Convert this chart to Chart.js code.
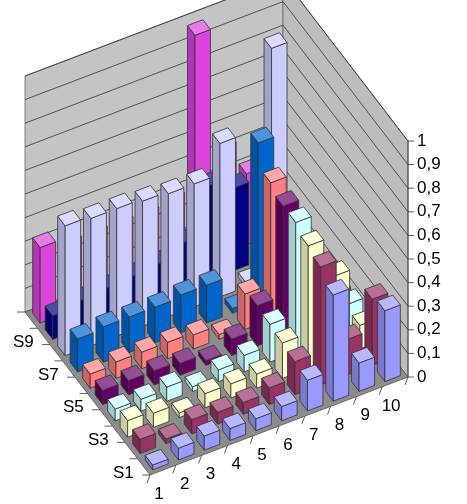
<!DOCTYPE html>
<html><head><meta charset="utf-8">
<script src="https://cdn.jsdelivr.net/npm/chart.js@4/dist/chart.umd.min.js"></script>
<style>body{margin:0;background:#fff}</style>
</head><body>
<canvas id="c" width="467" height="504"></canvas>
<script>
// categories, series and values
const categories = ['1','2','3','4','5','6','7','8','9','10'];
const seriesNames = ['S1','S2','S3','S4','S5','S6','S7','S8','S9','S10'];
const seriesLabels = ['S1','S3','S5','S7','S9'];
const valueTicks = ['0','0,1','0,2','0,3','0,4','0,5','0,6','0,7','0,8','0,9','1'];
const colors = ['#9999ff','#993366','#ffffcc','#ccffff','#660066','#ff8080','#0066cc','#ccccff','#000080','#dd44dd'];
const s1 = [0.02,0.05,0.06,0.05,0.05,0.06,0.13,0.45,0.12,0.30];
const s2 = [0.06,0.02,0.06,0.05,0.05,0.07,0.14,0.50,0.15,0.28];
const s3 = [0.07,0.06,0.02,0.06,0.06,0.06,0.15,0.52,0.35,0.10];
const s4 = [0.05,0.05,0.06,0.02,0.05,0.07,0.16,0.55,0.15,0.12];
const s5 = [0.06,0.06,0.06,0.05,0.02,0.07,0.17,0.55,0.10,0.10];
const s6 = [0.06,0.07,0.07,0.07,0.06,0.02,0.15,0.58,0.10,0.10];
const s7 = [0.14,0.15,0.15,0.15,0.16,0.16,0.02,0.68,0.10,0.10];
const s8 = [0.55,0.54,0.54,0.53,0.52,0.52,0.65,0.02,0.97,0.10];
const s9 = [0.10,0.12,0.13,0.14,0.15,0.20,0.40,0.35,0.02,0.10];
const s10 = [0.32,0.30,0.30,0.30,0.30,0.32,0.97,0.45,0.30,0.02];
const values = [s1,s2,s3,s4,s5,s6,s7,s8,s9,s10];

// projection (cat units, series units, value) -> scale values
const origin = [150,475], catStep = [25.8,-9.8], serStep = [-12.5,-16.3], zUnit = 236;
function proj(c,s,z){ return [origin[0]+c*catStep[0]+s*serStep[0], origin[1]+c*catStep[1]+s*serStep[1]-z*zUnit]; }

function shade(hex,f){
  let n=parseInt(hex.slice(1),16), r=n>>16, g=(n>>8)&255, b=n&255;
  const m=v=>Math.max(0,Math.min(255,Math.round(f>1? v+(255-v)*(f-1) : v*f)));
  return `rgb(${m(r)},${m(g)},${m(b)})`;
}

const bars3d = {
  id:'bars3d',
  afterDraw(chart){
    const {ctx, scales:{x,y}} = chart;
    const P=(c,s,z)=>{const p=proj(c,s,z); return [x.getPixelForValue(p[0]), y.getPixelForValue(p[1])];};
    const poly=(pts,fill,stroke)=>{ctx.beginPath(); pts.forEach((p,i)=>i?ctx.lineTo(p[0],p[1]):ctx.moveTo(p[0],p[1])); ctx.closePath(); ctx.fillStyle=fill; ctx.fill(); if(stroke){ctx.strokeStyle=stroke; ctx.lineWidth=0.8; ctx.stroke();}};
    const n=categories.length, m=seriesNames.length;
    ctx.save();
    // walls and floor
    poly([P(0,m,0),P(n,m,0),P(n,m,1),P(0,m,1)],'#c4c4c4','#666');
    poly([P(n,0,0),P(n,m,0),P(n,m,1),P(n,0,1)],'#bcbcbc','#666');
    poly([P(0,0,0),P(n,0,0),P(n,m,0),P(0,m,0)],'#8c8c8c','#555');
    ctx.strokeStyle='#333'; ctx.lineWidth=0.8;
    for(let i=1;i<valueTicks.length;i++){
      const z=i/10; ctx.beginPath();
      let a=P(0,m,z),b=P(n,m,z),c=P(n,0,z);
      ctx.moveTo(a[0],a[1]); ctx.lineTo(b[0],b[1]); ctx.lineTo(c[0],c[1]); ctx.stroke();
    }
    // bars, far to near
    const w=0.3;
    for(let s=m-1;s>=0;s--) for(let c=n-1;c>=0;c--){
      const v=values[s][c], col=colors[s], cc=c+0.5, sc=s+0.5;
      const c0=cc-w,c1=cc+w,s0=sc-w,s1b=sc+w;
      poly([P(c0,s0,0),P(c0,s1b,0),P(c0,s1b,v),P(c0,s0,v)],shade(col,0.8),'#333');
      poly([P(c0,s0,0),P(c1,s0,0),P(c1,s0,v),P(c0,s0,v)],col,'#333');
      poly([P(c0,s0,v),P(c1,s0,v),P(c1,s1b,v),P(c0,s1b,v)],shade(col,1.3),'#333');
    }
    // value axis
    ctx.font='17px Arial'; ctx.fillStyle='#000'; ctx.textBaseline='middle'; ctx.textAlign='left';
    const b0=P(n,0,0), b1=P(n,0,1);
    ctx.beginPath(); ctx.moveTo(b0[0],b0[1]); ctx.lineTo(b1[0],b1[1]); ctx.stroke();
    valueTicks.forEach((t,i)=>{const p=P(n,0,i/10); ctx.beginPath(); ctx.moveTo(p[0],p[1]); ctx.lineTo(p[0]+6,p[1]); ctx.stroke(); ctx.fillText(t,p[0]+9,p[1]);});
    // category axis
    ctx.textAlign='center';
    for(let c=0;c<=n;c++){const p=P(c,0,0); ctx.beginPath(); ctx.moveTo(p[0],p[1]); ctx.lineTo(p[0]-3,p[1]+8); ctx.stroke();}
    categories.forEach((t,c)=>{const p=P(c+0.5,0,0); ctx.fillText(t,p[0]-4,p[1]+24);});
    // series axis
    ctx.textAlign='right';
    for(let s=0;s<=m;s++){const p=P(0,s,0); ctx.beginPath(); ctx.moveTo(p[0],p[1]); ctx.lineTo(p[0]-8,p[1]); ctx.stroke();}
    seriesLabels.forEach(t=>{const s=seriesNames.indexOf(t); const p=P(0,s+0.5,0); ctx.fillText(t,p[0]-10,p[1]+6);});
    ctx.restore();
  }
};

new Chart(document.getElementById('c'),{
  type:'scatter',
  data:{datasets:[{data:[]}]},
  options:{responsive:false, animation:false, layout:{padding:0},
    plugins:{legend:{display:false}, tooltip:{enabled:false}},
    scales:{x:{type:'linear',min:0,max:467,display:false}, y:{type:'linear',min:0,max:504,reverse:true,display:false}}},
  plugins:[bars3d]
});
</script>
</body></html>
